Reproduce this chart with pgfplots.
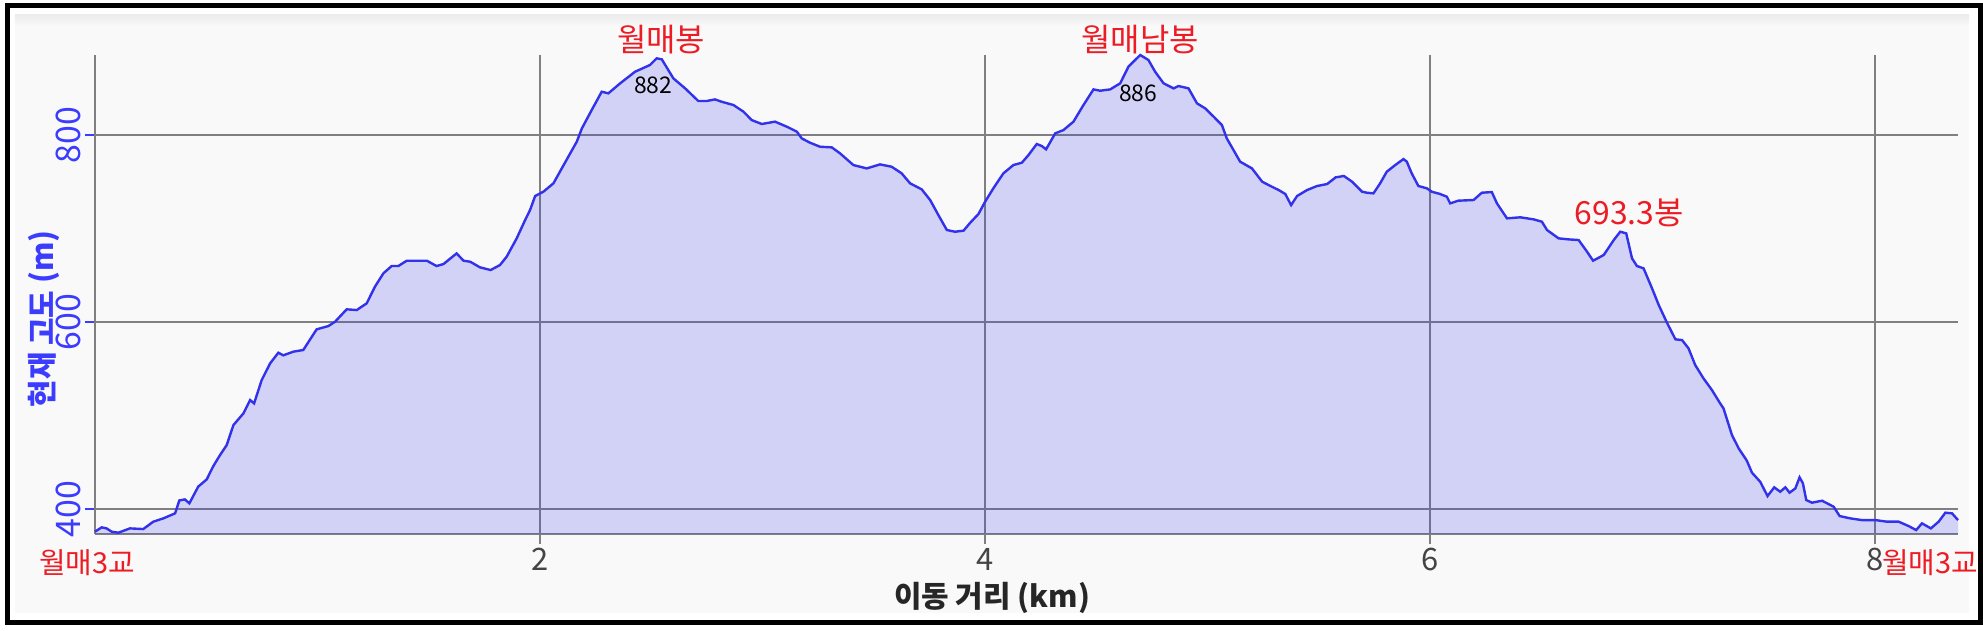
\documentclass[border=0pt]{standalone}
\usepackage{fontspec}
\setmainfont{Noto Sans CJK KR}
\usepackage{pgfplots}
\pgfplotsset{compat=1.18}
\usepackage{pgfplotstable}
\usetikzlibrary{backgrounds}

\definecolor{linec}{RGB}{50,50,235}
\definecolor{fillc}{RGB}{55,55,235}
\definecolor{panel}{RGB}{249,249,249}
\definecolor{redlab}{RGB}{237,28,36}
\definecolor{yblue}{RGB}{60,60,255}
\definecolor{tickgray}{RGB}{68,68,68}
\definecolor{gridc}{RGB}{128,128,128}

% 거리(km), 고도(m)
\pgfplotstableread{
km elev
0.000 375.8
0.030 380.4
0.052 379.3
0.075 375.8
0.105 374.7
0.157 379.3
0.217 378.6
0.262 386.5
0.307 390.0
0.360 395.4
0.379 409.2
0.404 410.3
0.424 406.1
0.464 424.0
0.502 431.7
0.532 446.0
0.562 457.8
0.592 468.5
0.622 489.8
0.667 502.3
0.697 516.6
0.715 513.0
0.749 537.9
0.787 555.8
0.824 567.2
0.846 564.4
0.891 568.3
0.936 570.1
0.996 592.2
1.049 595.7
1.079 600.4
1.131 613.6
1.176 612.8
1.221 620.0
1.258 637.8
1.296 652.1
1.333 659.9
1.363 659.9
1.401 665.6
1.491 665.6
1.535 659.9
1.566 662.0
1.625 673.4
1.656 665.6
1.686 664.5
1.730 658.5
1.778 655.6
1.820 661.0
1.850 669.9
1.895 689.5
1.933 709.1
1.955 719.8
1.978 734.8
2.015 739.4
2.060 748.3
2.106 767.9
2.165 792.9
2.188 807.1
2.232 826.7
2.277 846.3
2.307 844.6
2.360 855.3
2.427 867.7
2.494 874.9
2.524 882.0
2.547 881.0
2.599 860.6
2.652 849.9
2.711 836.4
2.749 836.4
2.786 838.1
2.816 835.6
2.869 832.1
2.914 825.0
2.951 816.0
2.996 811.8
3.056 814.3
3.109 808.9
3.154 803.6
3.176 796.4
3.213 791.8
3.258 787.5
3.311 786.8
3.348 780.4
3.408 767.9
3.468 764.3
3.528 768.6
3.580 766.1
3.625 759.0
3.663 748.3
3.715 741.9
3.753 730.5
3.790 714.4
3.828 698.4
3.865 696.6
3.903 697.7
3.933 706.2
3.970 715.5
4.000 728.7
4.037 743.0
4.082 759.0
4.127 767.9
4.165 770.4
4.195 778.6
4.232 790.4
4.255 788.2
4.274 784.7
4.315 801.8
4.352 805.3
4.397 814.3
4.442 832.1
4.487 848.8
4.517 847.4
4.562 848.8
4.607 855.3
4.644 873.1
4.697 885.6
4.734 880.2
4.764 867.7
4.802 855.3
4.847 849.9
4.869 852.4
4.914 849.9
4.952 833.9
4.989 828.5
5.027 819.6
5.064 810.7
5.086 796.4
5.116 784.0
5.146 771.5
5.199 764.3
5.245 750.1
5.282 745.5
5.319 741.2
5.349 736.9
5.375 725.1
5.402 734.8
5.447 741.2
5.492 745.5
5.537 747.6
5.575 754.7
5.612 756.2
5.649 750.1
5.694 739.4
5.715 738.3
5.745 737.6
5.775 748.3
5.805 760.8
5.843 767.9
5.880 774.3
5.895 771.5
5.917 759.0
5.947 745.5
5.985 743.0
6.007 739.4
6.045 736.9
6.075 734.0
6.090 726.9
6.127 729.8
6.195 730.5
6.232 738.3
6.277 739.0
6.300 726.9
6.345 710.9
6.405 712.0
6.465 709.8
6.502 707.3
6.525 698.4
6.577 689.5
6.622 688.4
6.667 687.7
6.705 675.2
6.732 665.6
6.780 671.7
6.825 687.7
6.854 696.6
6.881 694.8
6.907 668.1
6.929 659.9
6.959 657.4
6.997 636.0
7.027 618.2
7.064 599.3
7.102 581.5
7.132 580.7
7.161 571.8
7.191 554.0
7.228 539.8
7.266 527.3
7.303 513.0
7.318 507.7
7.356 479.2
7.386 465.0
7.423 451.7
7.446 438.9
7.483 429.2
7.516 413.9
7.546 423.2
7.573 418.5
7.596 423.2
7.615 417.5
7.641 422.1
7.660 433.9
7.675 427.5
7.690 409.6
7.716 406.8
7.761 408.9
7.813 402.5
7.840 392.5
7.888 390.0
7.940 388.2
8.000 388.2
8.052 386.5
8.105 386.5
8.150 381.8
8.184 377.5
8.210 384.7
8.250 379.3
8.285 386.5
8.315 396.1
8.345 395.4
8.372 388.2
}\profile

\begin{document}
\begin{tikzpicture}[x=1bp,y=1bp]
\begin{axis}[
  scale only axis, width=931.5bp, height=239.5bp,
  xmin=0, xmax=8.372, ymin=373.3, ymax=885.6,
  axis lines=left,
  axis line style={-, draw=gridc, line width=1bp},
  grid=major,
  grid style={draw=gridc, line width=1bp},
  xtick={2,4,6,8}, ytick={400,600,800},
  tick align=outside, major tick length=5bp,
  xtick style={draw=gridc, line width=1bp},
  ytick style={draw=yblue, line width=0.75bp},
  /pgf/number format/assume math mode=true,
  xticklabel style={font=\fontsize{15.5}{18}\selectfont, text=tickgray, inner sep=2bp},
  yticklabel style={font=\fontsize{17}{20}\selectfont, text=yblue, rotate=90, anchor=south, inner sep=2bp},
  xlabel={이동 거리 (km)},
  xlabel style={font=\bfseries\fontsize{15}{18}\selectfont, text=black!85,
    at={(axis description cs:0.4815,-0.1336)}, anchor=center},
  ylabel={현재 고도 (m)},
  ylabel style={font=\bfseries\fontsize{15}{18}\selectfont, text=yblue,
    at={(axis description cs:-0.02764,0.4489)}, anchor=center},
  clip=false,
]
\addplot[draw=none, fill=fillc, fill opacity=0.2] table[x=km, y=elev] {\profile} \closedcycle;
\addplot[draw=linec, line width=1.2bp, mark=none] table[x=km, y=elev] {\profile};

\node[font=\fontsize{16}{18}\selectfont, text=redlab] at (axis cs:2.544,901.6) {월매봉};
\node[font=\fontsize{11.5}{13}\selectfont] at (axis cs:2.508,853.5) {882};
\node[font=\fontsize{16}{18}\selectfont, text=redlab] at (axis cs:4.697,901.6) {월매남봉};
\node[font=\fontsize{11.5}{13}\selectfont] at (axis cs:4.688,844.4) {886};
\node[font=\fontsize{16}{18}\selectfont, text=redlab] at (axis cs:6.894,717.1) {693.3봉};
\node[font=\fontsize{14.5}{16}\selectfont, text=redlab] at (axis cs:-0.036,342.2) {월매3교};
\node[font=\fontsize{14.5}{16}\selectfont, text=redlab, anchor=east, inner sep=0pt] at (axis cs:8.463,342.2) {월매3교};
\coordinate (O) at (rel axis cs:0,0);
\end{axis}

% 바탕과 테두리 (축 원점 기준)
\begin{scope}[on background layer, shift={(O)}]
\fill[white] (-47.5,-48) rectangle (944,267);
\fill[panel] (-40,-39.5) rectangle (937,254);
\shade[top color=black!8, bottom color=panel] (-40,254) rectangle (937,260);
\draw[line width=2.5bp] (-43.75,-44.25) rectangle (942.75,264.25);
\end{scope}
\pgfresetboundingbox
\path[use as bounding box, shift={(O)}] (-47.5,-48) rectangle (944,267);
\end{tikzpicture}
\end{document}
